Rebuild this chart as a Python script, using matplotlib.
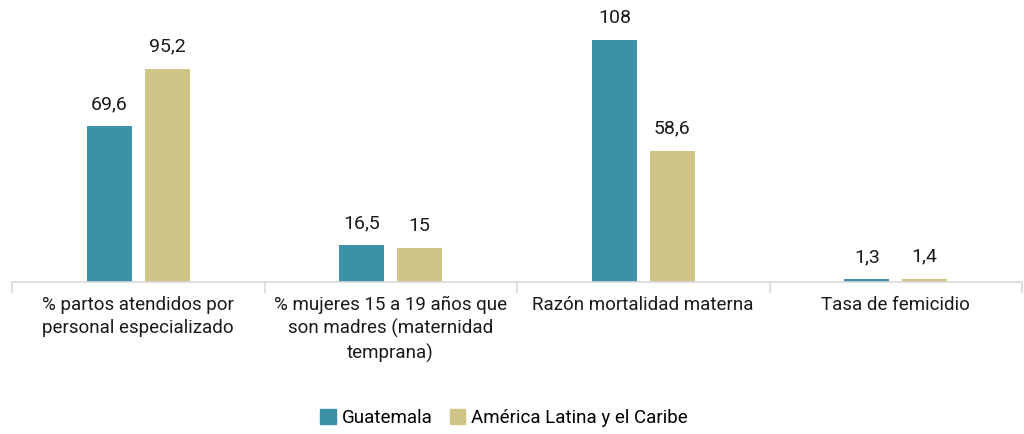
import matplotlib.pyplot as plt
from matplotlib.patches import Patch

plt.rcParams['font.family'] = ['Roboto', 'DejaVu Sans']

categorias = ['% partos atendidos por\npersonal especializado',
              '% mujeres 15 a 19 años que\nson madres (maternidad\ntemprana)',
              'Razón mortalidad materna',
              'Tasa de femicidio']
guatemala = [69.6, 16.5, 108, 1.3]
alc = [95.2, 15, 58.6, 1.4]
series = ['Guatemala', 'América Latina y el Caribe']

col_gt = '#3B91A8'
col_alc = '#CFC587'

fig = plt.figure(figsize=(10.24, 4.34), dpi=100)
ax = fig.add_axes([12 / 1024, 1 - 282 / 434, 1010 / 1024, 282 / 434])

x = list(range(len(categorias)))
w = 0.178
off = 0.114
b1 = ax.bar([i - off for i in x], guatemala, w, color=col_gt)
b2 = ax.bar([i + off for i in x], alc, w, color=col_alc)

def fmt(v):
    return ('%g' % v).replace('.', ',')

for bars, vals in [(b1, guatemala), (b2, alc)]:
    for r, v in zip(bars, vals):
        ax.annotate(fmt(v), (r.get_x() + r.get_width() / 2, v), xytext=(0, 9.5),
                    textcoords='offset points', ha='center', va='bottom',
                    fontsize=14, color='#1a1a1a')

ax.set_xlim(-0.5, 3.5)
ax.set_ylim(0, 126)
for s in ['top', 'right', 'left']:
    ax.spines[s].set_visible(False)
ax.spines['bottom'].set_color('#D9D9D9')
ax.spines['bottom'].set_linewidth(1.2)
ax.set_yticks([])
ax.set_xticks(x)
ax.set_xticklabels(categorias, fontsize=13.5, color='#1a1a1a', linespacing=1.35)
ax.tick_params(axis='x', which='major', length=0, pad=10)
ax.set_xticks([-0.5, 0.5, 1.5, 2.5, 3.5], minor=True)
ax.tick_params(axis='x', which='minor', length=8, color='#D9D9D9', width=1.2)

handles = [Patch(color=col_gt), Patch(color=col_alc)]
fig.legend(handles, series, loc='center', bbox_to_anchor=(504 / 1024, 1 - 418 / 434),
           ncol=2, frameon=False, fontsize=13.5, handlelength=0.85, handleheight=0.85,
           handletextpad=0.3, columnspacing=0.9)

fig.savefig('out.png', dpi=100)
